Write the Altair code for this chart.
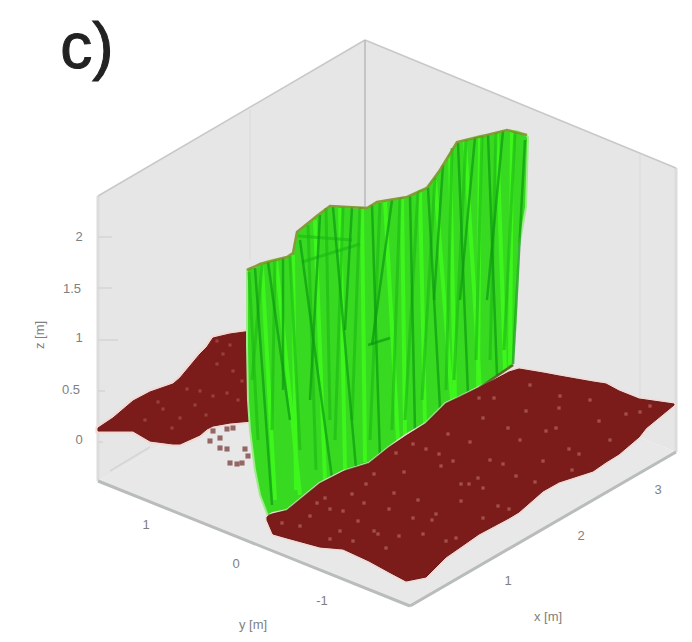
import altair as alt
import pandas as pd

# walls: x, top, bottom
left_wall = [(98, 196, 481), (365, 40, 327)]
right_wall = [(365, 40, 327), (676, 168, 452)]
floor = [(98, 481, 481), (365, 327, 588), (410, 345, 606), (676, 452, 452)]

brown_left = [(98, 428, 431), (113, 418, 431), (133, 401, 431), (150, 392, 441), (173, 384, 444),
              (180, 378, 444), (200, 354, 435), (207, 347, 429), (213, 338, 426), (230, 334, 423),
              (252, 331, 421)]
brown_right = [(267, 517, 520), (273, 514, 534), (287, 511, 538), (320, 484, 547), (343, 472, 549),
               (369, 464, 561), (389, 448, 572), (406, 436, 581), (426, 424, 577), (446, 404, 557),
               (459, 398, 548), (479, 388, 534), (509, 372, 518), (519, 369, 512), (543, 373, 491),
               (559, 376, 482), (593, 382, 471), (606, 384, 462), (619, 391, 454), (639, 399, 437),
               (646, 400, 428), (674, 404, 405)]
green_wall = [(247, 270, 345), (248, 269, 400), (250, 268, 430), (255, 267, 470), (260, 264, 495),
              (268, 261, 516), (272, 260, 514), (287, 257, 511), (293, 253, 506), (297, 232, 503),
              (318, 215, 486), (330, 206, 478), (346, 207, 471), (367, 208, 465), (377, 202, 458),
              (389, 200, 448), (407, 197, 436), (426, 188, 424), (440, 170, 410), (446, 160, 404),
              (457, 142, 399), (479, 136, 388), (487, 135, 383), (507, 130, 369), (513, 131, 365),
              (516, 131, 320), (519, 132, 247), (526, 135, 207), (528, 137, 140)]

dark_edges = [(255, 268, 272, 505), (268, 262, 290, 420), (283, 258, 283, 390), (300, 240, 332, 478),
              (320, 215, 310, 400), (333, 207, 356, 468), (352, 207, 345, 330), (372, 205, 380, 458),
              (392, 200, 372, 345), (410, 196, 415, 430), (428, 188, 440, 408), (443, 165, 434, 300),
              (458, 143, 468, 394), (475, 137, 460, 300), (488, 135, 497, 375), (503, 131, 487, 300),
              (525, 140, 513, 364), (368, 345, 390, 338)]
mid_edges = [(249, 272, 258, 440), (262, 265, 252, 380), (275, 260, 272, 430), (290, 256, 300, 450),
             (308, 225, 316, 470), (326, 208, 330, 420), (343, 207, 335, 440), (360, 207, 352, 420),
             (380, 203, 370, 440), (400, 198, 392, 430), (418, 192, 405, 420), (435, 178, 422, 400),
             (452, 148, 446, 390), (466, 140, 454, 380), (482, 136, 476, 360), (496, 133, 490, 360),
             (515, 132, 504, 350), (298, 236, 352, 240), (302, 262, 360, 244)]
bright_edges = [(262, 265, 275, 500), (276, 260, 300, 495), (293, 255, 296, 490), (315, 220, 325, 480),
                (340, 207, 345, 470), (362, 207, 365, 462), (385, 201, 398, 440), (402, 197, 405, 435),
                (420, 190, 425, 425), (435, 180, 452, 400), (450, 155, 455, 398), (465, 141, 480, 388),
                (480, 136, 478, 388), (497, 133, 505, 370), (512, 131, 510, 365)]
ridge = [(247, 270), (260, 264), (287, 257), (293, 253), (297, 232), (318, 215), (330, 206), (367, 208),
         (377, 202), (407, 197), (427, 188), (440, 170), (457, 142), (487, 135), (507, 130), (527, 135)]
seam = [(268, 516), (287, 511), (320, 484), (346, 471), (369, 464), (389, 448), (426, 424), (446, 404),
        (479, 388), (513, 365)]

speckle_x = [479, 494, 413, 396, 426, 374, 366, 394, 461, 469, 478, 483, 508, 556, 559, 439, 453, 441,
             413, 386, 364, 389, 358, 436, 483, 509, 498, 461, 516, 569, 543, 526, 626, 483, 599, 579,
             546, 503, 399, 423, 446, 374, 353, 456, 325, 343, 330, 340, 282, 330, 317,
             300, 310, 352, 378, 404, 418, 432, 470, 490, 520, 535, 560, 590, 610, 640, 650, 530, 572, 448]
speckle_y = [398, 398, 444, 453, 449, 474, 484, 493, 484, 484, 478, 488, 428, 428, 408, 454, 461, 466,
             518, 548, 503, 509, 521, 514, 518, 509, 506, 501, 476, 449, 461, 411, 414, 418, 421, 454,
             431, 464, 536, 534, 541, 531, 541, 538, 498, 511, 509, 531, 523, 539, 503,
             526, 516, 494, 534, 472, 500, 520, 442, 460, 440, 482, 396, 400, 440, 412, 406, 385, 470, 434]
speckle_lx = [223, 217, 233, 213, 227, 200, 187, 163, 180, 242, 217, 145, 158, 172, 195, 206, 238, 230]
speckle_ly = [354, 364, 371, 396, 393, 391, 389, 409, 418, 381, 341, 420, 402, 428, 405, 415, 400, 345]
frag_x = [213, 227, 233, 220, 210, 220, 227, 245, 230, 237, 242, 248]
frag_y = [431, 429, 428, 438, 441, 448, 449, 449, 463, 464, 463, 456]

box_edges = [(98, 196, 365, 40), (365, 40, 676, 168)]
base_edges = [(98, 481, 410, 606), (410, 606, 676, 452)]
back_line = [(365, 40, 365, 210)]
side_edges = [(98, 196, 98, 481), (676, 168, 676, 452)]
faint_lines = [(250, 110, 250, 260), (640, 155, 640, 430)]
grid_lines = [(110, 471, 150, 447), (98, 237, 112, 237), (98, 288, 112, 288), (98, 340, 118, 340),
              (98, 391, 105, 391), (98, 442, 103, 442)]

labels = ["2", "1.5", "1", "0.5", "0", "1", "0", "-1", "1", "2", "3", "y [m]", "x [m]"]
label_x = [79, 72, 79, 71, 79, 146, 236, 322, 508, 581, 658, 253, 548]
label_y = [237, 289, 338, 390, 440, 525, 564, 601, 581, 536, 490, 625, 617]

sx = alt.Scale(domain=[8, 684], range=[0, 676], nice=False, zero=False)
sy = alt.Scale(domain=[8, 634], range=[0, 626], nice=False, zero=False)
X = alt.X("x:Q", scale=sx, axis=None)
Y = alt.Y("y:Q", scale=sy, axis=None, stack=None)


def area(rows, **kw):
    df = pd.DataFrame(rows, columns=["x", "y", "y2"])
    return alt.Chart(df).mark_area(interpolate="linear", **kw).encode(x=X, y=Y, y2="y2:Q")


def rules(rows, **kw):
    df = pd.DataFrame(rows, columns=["x", "y", "x2", "y2"])
    return alt.Chart(df).mark_rule(**kw).encode(x=X, y=Y, x2="x2:Q", y2="y2:Q")


def path(rows, **kw):
    df = pd.DataFrame(rows, columns=["x", "y"]).reset_index()
    return alt.Chart(df).mark_line(**kw).encode(x=X, y=Y, order="index:Q")


def dots(xs, ys, **kw):
    df = pd.DataFrame({"x": xs, "y": ys})
    return alt.Chart(df).mark_square(**kw).encode(x=X, y=Y)


label_df = pd.DataFrame({"x": label_x, "y": label_y, "t": labels})
z_df = pd.DataFrame({"x": [40], "y": [335], "t": ["z [m]"]})
title_df = pd.DataFrame({"x": [87], "y": [49], "t": ["c)"]})

chart = alt.layer(
    area(left_wall, color="#e6e6e6"),
    area(right_wall, color="#e6e6e7"),
    area(floor, color="#e8e8e8"),
    rules(side_edges, color="#dcdcdc", strokeWidth=3),
    rules(faint_lines, color="#dedede", strokeWidth=1.5),
    rules(grid_lines, color="#d5d5d5", strokeWidth=1.5),
    rules(box_edges, color="#c8c8c8", strokeWidth=1.5),
    rules(base_edges, color="#b9bcbc", strokeWidth=3),
    rules(back_line, color="#b8b8b8", strokeWidth=1.5),
    area(brown_left, color="#7c1c1a", stroke="#f3d8d4", strokeWidth=5),
    area(brown_left, color="#7c1c1a", stroke="#6e1a18", strokeWidth=1),
    dots(speckle_lx, speckle_ly, color="#a85a50", size=10, opacity=0.6),
    dots(frag_x, frag_y, color="#86504c", size=26, opacity=0.85),
    area(green_wall, color="#37da20", stroke="#9eeb8a", strokeWidth=2),
    rules(bright_edges, color="#3ef81c", strokeWidth=4, opacity=0.9),
    rules(mid_edges, color="#1cb814", strokeWidth=3, opacity=0.6),
    rules(dark_edges, color="#0d9a12", strokeWidth=2.5, opacity=0.7),
    path(ridge, color="#7d8a22", strokeWidth=2.5, opacity=0.8),
    area(brown_right, color="#7c1c1a", stroke="#f3d8d4", strokeWidth=4),
    path(seam, color="#4a5a18", strokeWidth=2.5, opacity=0.85),
    area(brown_right, color="#7c1c1a", stroke="#681816", strokeWidth=1),
    dots(speckle_x, speckle_y, color="#b4665e", size=11, opacity=0.7),
    alt.Chart(label_df).mark_text(font="Liberation Sans", fontSize=13, color="#808080").encode(
        x=X, y=Y, text="t:N"),
    alt.Chart(z_df).mark_text(font="Liberation Sans", fontSize=13, color="#808080", angle=270).encode(
        x=X, y=Y, text="t:N"),
    alt.Chart(title_df).mark_text(font="Liberation Sans", fontSize=64, color="#222222",
                                  stroke="#222222", strokeWidth=1).encode(x=X, y=Y, text="t:N"),
).properties(width=676, height=626, padding=0, autosize=alt.AutoSizeParams(type="none")).configure_view(stroke=None)

chart.save("out.html", embed_options={"renderer": "svg", "actions": False})
